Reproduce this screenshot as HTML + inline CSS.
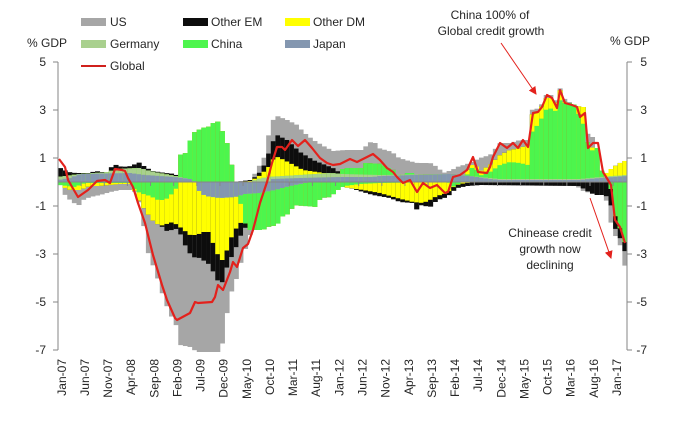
<!DOCTYPE html>
<html><head><meta charset="utf-8">
<style>
html,body{margin:0;padding:0;background:#fff;}
svg{display:block;font-family:"Liberation Sans",sans-serif;}
</style></head>
<body>
<svg id="c" width="681" height="423" viewBox="0 0 681 423" xmlns="http://www.w3.org/2000/svg">
<defs>
<marker id="ah" markerWidth="8" markerHeight="8" refX="7" refY="4" orient="auto" markerUnits="userSpaceOnUse">
<path d="M0,0 L8,4 L0,8 Z" fill="#e3211c"/>
</marker>
</defs>
<rect width="681" height="423" fill="#fff"/>
<g id="bars"></g>

<line x1="58" y1="182" x2="627" y2="182" stroke="#868686" stroke-width="1"/>
<g id="xt" stroke="#868686" stroke-width="1"></g>

<line x1="58" y1="62" x2="58" y2="350" stroke="#868686" stroke-width="1"/>
<g stroke="#868686" stroke-width="1">
<line x1="53" y1="62" x2="58" y2="62"/><line x1="53" y1="110" x2="58" y2="110"/>
<line x1="53" y1="158" x2="58" y2="158"/><line x1="53" y1="206" x2="58" y2="206"/>
<line x1="53" y1="254" x2="58" y2="254"/><line x1="53" y1="302" x2="58" y2="302"/>
<line x1="53" y1="350" x2="58" y2="350"/>
</g>
<line x1="627" y1="62" x2="627" y2="350" stroke="#868686" stroke-width="1"/>
<g stroke="#868686" stroke-width="1">
<line x1="627" y1="62" x2="632" y2="62"/><line x1="627" y1="110" x2="632" y2="110"/>
<line x1="627" y1="158" x2="632" y2="158"/><line x1="627" y1="206" x2="632" y2="206"/>
<line x1="627" y1="254" x2="632" y2="254"/><line x1="627" y1="302" x2="632" y2="302"/>
<line x1="627" y1="350" x2="632" y2="350"/>
</g>

<g font-size="12" fill="#262626" text-anchor="end">
<text x="46" y="66">5</text><text x="46" y="114">3</text><text x="46" y="162">1</text>
<text x="46" y="210">-1</text><text x="46" y="258">-3</text><text x="46" y="306">-5</text>
<text x="46" y="354">-7</text>
<text x="647" y="66">5</text><text x="647" y="114">3</text><text x="647" y="162">1</text>
<text x="647" y="210">-1</text><text x="647" y="258">-3</text><text x="647" y="306">-5</text>
<text x="647" y="354">-7</text>
</g>
<text x="27" y="47" font-size="12" fill="#262626">% GDP</text>
<text x="610" y="45" font-size="12" fill="#262626">% GDP</text>

<g id="xl" font-size="12" fill="#262626" text-anchor="end"></g>

<g font-size="12" fill="#262626">
<rect x="81" y="18" width="25" height="8" fill="#a6a6a6"/><text x="110" y="26">US</text>
<rect x="183" y="18" width="25" height="8" fill="#0d0d0d"/><text x="211" y="26">Other EM</text>
<rect x="285" y="18" width="25" height="8" fill="#ffff00"/><text x="313" y="26">Other DM</text>
<rect x="81" y="40" width="25" height="8" fill="#a9d08e"/><text x="110" y="48">Germany</text>
<rect x="183" y="40" width="25" height="8" fill="#4df54d"/><text x="211" y="48">China</text>
<rect x="285" y="40" width="25" height="8" fill="#8497b0"/><text x="313" y="48">Japan</text>
<line x1="81" y1="66" x2="106" y2="66" stroke="#d0201c" stroke-width="2"/><text x="110" y="70">Global</text>
</g>

<polyline id="gl" fill="none" stroke="#e3211c" stroke-width="2.2" stroke-linejoin="round" points="59,159 65,167 68,180 78,197 88,190 97,181 105,180 110,183 115,169 122,170 125,171 128,178 133,187 138,203 145,223 153,255 162,285 167,300 175,318 177,320 190,313 195,302 198,303 212,302 215,297 218,285 223,290 230,272 233,262 237,267 243,248 248,244 253,230 260,203 267,182 272,163 277,147 282,147 285,150 292,140 298,146 305,140 312,148 320,158 327,163 333,165 340,164 350,159 357,162 367,157 373,154 380,160 387,168 393,172 397,177 403,183 410,180 417,192 423,183 430,188 437,185 445,193 448,192 453,177 460,175 467,170 473,157 478,172 487,173 490,167 493,157 500,143 507,148 513,143 518,148 523,140 528,147 533,113 538,112 542,107 547,95 552,98 557,108 560,90 565,103 572,105 577,107 580,117 585,113 588,148 593,143 598,143 603,172 608,180 611,185 615,220 620,227 625,243"/>

<g font-size="12" fill="#262626" text-anchor="middle">
<text x="490" y="19">China 100% of</text>
<text x="491" y="35">Global credit growth</text>
<text x="550" y="237">Chinease credit</text>
<text x="550" y="253">growth now</text>
<text x="550" y="269">declining</text>
</g>
<line x1="501" y1="43" x2="536" y2="94" stroke="#e3211c" stroke-width="1" marker-end="url(#ah)"/>
<line x1="590" y1="198" x2="611" y2="258" stroke="#e3211c" stroke-width="1" marker-end="url(#ah)"/>
</svg>
<script>
(function(){
var NS="http://www.w3.org/2000/svg";
var Z=182,X0=58,N=123,W=(627-58)/N;
function ip(k,x){
  if(x<=k[0])return k[1];
  for(var i=2;i<k.length;i+=2){
    if(x<=k[i]){var x0=k[i-2],y0=k[i-1],x1=k[i],y1=k[i+1];
      if(x1===x0)return y1;return y0+(y1-y0)*(x-x0)/(x1-x0);}
  }
  return k[k.length-1];
}
var JP=[58,180,70,178,80,174,130,173,145,175,160,176,175,177,190,179,196,182,268,182,272,179,300,178,340,177,373,177,380,176,413,175,450,174,470,176,490,179,500,180,580,180,600,178,627,176];
var GP=[58,177,80,174,110,172,113,169,140,168,150,171,160,173,175,176,190,179,196,182,250,182,258,179,268,177,300,175,330,173,343,174,380,175,450,174,470,176,490,178,500,179,580,179,600,177,627,175];
var CP=[58,177,175,182,178,182,179,155,186,153,190,140,193,133,202,128,212,126,215,117,220,126,226,140,230,155,233,175,236,182,250,182,268,178,300,175,330,174,340,174,343,168,362,168,365,163,383,164,386,168,393,168,395,178,403,178,405,173,413,173,415,178,455,178,458,176,467,176,469,168,476,168,479,176,490,172,500,165,510,162,520,163,528,165,531,133,540,122,545,110,553,108,557,113,560,100,565,103,573,103,578,113,586,130,589,152,597,148,600,168,605,177,610,179,627,176];
var DP=[58,177,175,182,236,182,250,181,258,177,268,168,272,160,278,157,290,163,303,170,317,172,330,174,340,182,452,182,456,177,466,174,469,165,476,165,479,172,490,165,500,155,510,150,520,148,528,145,531,115,540,110,545,98,552,98,557,105,560,90,565,103,575,105,580,107,585,107,588,150,595,146,600,172,605,174,612,168,620,163,627,160];
var EP=[58,167,68,172,75,173,90,173,95,171,102,172,108,173,113,164,122,167,132,166,138,162,145,167,152,171,165,173,175,174,178,177,180,182,236,182,250,180,255,177,262,170,267,158,272,143,277,135,287,140,300,152,313,160,323,164,333,168,345,176,355,182,627,182];
var UP=[58,182,245,182,250,180,253,177,258,167,263,162,268,137,273,120,277,116,287,120,297,125,303,132,313,140,325,147,333,151,345,150,362,150,367,145,373,140,378,148,392,152,397,157,405,160,417,163,430,163,437,167,443,173,452,170,457,167,470,163,480,158,490,155,500,143,510,143,520,140,528,140,531,110,540,108,545,95,552,95,557,103,560,88,565,100,575,105,580,107,585,107,588,137,595,137,600,170,605,177,612,182,627,182];

var JN=[58,182,195,182,198,190,205,196,220,198,235,197,245,194,260,193,275,190,290,186,300,184,310,182,627,182];
var GN=[58,182,627,182];
var CN=[58,182,60,185,75,187,85,183,130,183,135,190,140,193,150,196,158,200,165,200,170,196,175,190,178,186,180,182,236,182,237,186,242,210,247,230,263,230,267,227,277,225,281,217,290,213,293,205,317,207,320,198,330,197,340,188,345,186,360,184,380,183,445,182,450,183,455,188,460,182,605,182,610,183,613,205,615,215,620,228,625,243,627,243];
var DN=[58,182,60,184,65,188,70,190,80,190,90,186,100,186,120,184,130,184,135,192,140,203,147,213,152,220,160,226,173,222,180,227,190,235,197,235,203,232,210,232,213,243,220,260,224,260,227,250,233,233,240,223,247,222,250,215,255,205,258,195,262,186,265,182,340,182,343,187,363,190,380,193,397,198,413,202,423,203,430,200,437,196,447,193,452,188,457,185,465,183,480,182,627,182];
var EN=[58,182,154,182,155,222,160,225,168,232,175,228,180,233,185,245,192,257,200,258,210,265,217,280,222,283,225,272,230,260,235,250,240,237,245,228,250,225,253,215,256,195,260,182,345,182,350,188,363,192,373,195,390,198,400,202,413,203,416,210,420,205,430,207,437,200,447,197,452,192,457,188,467,186,480,185,580,186,585,190,595,195,605,195,610,200,613,220,615,228,620,238,625,252,627,252];
var UN=[58,182,60,184,65,195,70,200,78,206,83,200,90,197,100,195,110,192,120,190,130,190,135,192,140,205,143,222,147,250,152,263,157,277,162,293,167,307,172,318,177,327,180,345,190,347,197,352,220,352,222,345,226,318,230,295,235,283,240,265,245,250,250,235,255,220,260,210,265,200,270,192,275,182,575,182,580,190,590,193,595,188,605,195,613,233,617,238,620,245,625,267,627,267];

var pos=[JP,GP,CP,DP,EP,UP],neg=[JN,GN,CN,DN,EN,UN];
var col=['#8497b0','#a9d08e','#4df54d','#ffff00','#0d0d0d','#a6a6a6'];
var g=document.getElementById('bars');
function rect(x,y,w,h,c){var r=document.createElementNS(NS,'rect');
  r.setAttribute('x',x.toFixed(2));r.setAttribute('y',y.toFixed(2));
  r.setAttribute('width',w.toFixed(2));r.setAttribute('height',h.toFixed(2));
  r.setAttribute('fill',c);g.appendChild(r);}
for(var i=0;i<N;i++){
  var x=X0+i*W,cx=x+W/2,t=[],b=[],p=Z,q=Z,j;
  for(j=0;j<6;j++){p=Math.min(p,ip(pos[j],cx));t.push(p);}
  for(j=0;j<6;j++){q=Math.max(q,ip(neg[j],cx));b.push(q);}
  for(j=5;j>=0;j--){if(t[j]<Z-0.4)rect(x,t[j],W+0.4,Z-t[j],col[j]);}
  for(j=5;j>=0;j--){if(b[j]>Z+0.4)rect(x,Z,W+0.4,b[j]-Z,col[j]);}
}
var xt=document.getElementById('xt'),xl=document.getElementById('xl');
var names=['Jan','Feb','Mar','Apr','May','Jun','Jul','Aug','Sep','Oct','Nov','Dec'];
for(var k=0;k<=24;k++){
  var tx=X0+k*5*W;
  var l=document.createElementNS(NS,'line');
  l.setAttribute('x1',tx.toFixed(2));l.setAttribute('x2',tx.toFixed(2));
  l.setAttribute('y1','182');l.setAttribute('y2','186');xt.appendChild(l);
  var m=k*5,yr=7+Math.floor(m/12),mi=m%12;
  var lab=names[mi]+'-'+(yr<10?'0'+yr:yr);
  var cxl=X0+(m+0.5)*W+5.5;
  var t2=document.createElementNS(NS,'text');
  t2.setAttribute('transform','translate('+cxl.toFixed(2)+',359) rotate(-90)');
  t2.setAttribute('x','0');t2.setAttribute('y','0');
  t2.textContent=lab;xl.appendChild(t2);
}
})();
</script>
</body></html>
